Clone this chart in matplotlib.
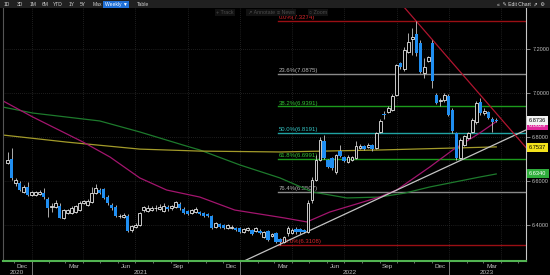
import numpy as np
import pandas as pd
import matplotlib
matplotlib.use("Agg")
import matplotlib.pyplot as plt
import matplotlib.dates as mdates
from matplotlib.patches import Rectangle
from matplotlib.lines import Line2D
from matplotlib.transforms import blended_transform_factory

plt.rcParams['font.family'] = ['Liberation Sans', 'DejaVu Sans']

# weekly candles (USD/CNY)
opens = [6.682, 6.699, 6.591, 6.591, 6.550, 6.573, 6.536, 6.537, 6.540, 6.545,
         6.518, 6.484, 6.482, 6.486, 6.432, 6.454, 6.454, 6.459, 6.468, 6.500,
         6.491, 6.505, 6.545, 6.559, 6.564, 6.527, 6.491, 6.482, 6.441, 6.436,
         6.441, 6.377, 6.391, 6.400, 6.468, 6.464, 6.470, 6.477, 6.473, 6.464,
         6.482, 6.477, 6.482, 6.495, 6.473, 6.464, 6.454, 6.459, 6.459, 6.454,
         6.450, 6.441, 6.391, 6.404, 6.400, 6.386, 6.386, 6.386, 6.386, 6.368,
         6.377, 6.377, 6.373, 6.373, 6.345, 6.373, 6.350, 6.364, 6.336, 6.323,
         6.364, 6.364, 6.382, 6.380, 6.377, 6.368, 6.514, 6.605, 6.695, 6.782,
         6.695, 6.705, 6.641, 6.736, 6.709, 6.686, 6.695, 6.705, 6.750, 6.759,
         6.755, 6.764, 6.750, 6.823, 6.905, 6.914, 6.923, 6.991, 7.136, 7.109,
         7.186, 7.245, 7.268, 7.227, 7.091, 7.145, 7.227, 6.991, 6.965, 6.968,
         6.986, 6.923, 6.818, 6.705, 6.764, 6.795, 6.823, 6.868, 6.959, 6.909,
         6.914, 6.882, 6.875]
highs = [6.730, 6.750, 6.614, 6.600, 6.580, 6.595, 6.556, 6.555, 6.560, 6.567,
         6.527, 6.500, 6.514, 6.500, 6.473, 6.475, 6.485, 6.490, 6.510, 6.515,
         6.520, 6.573, 6.586, 6.568, 6.570, 6.535, 6.500, 6.490, 6.450, 6.455,
         6.450, 6.400, 6.410, 6.460, 6.488, 6.490, 6.485, 6.490, 6.495, 6.500,
         6.490, 6.490, 6.510, 6.505, 6.480, 6.470, 6.475, 6.480, 6.465, 6.460,
         6.455, 6.445, 6.415, 6.410, 6.405, 6.405, 6.400, 6.392, 6.390, 6.387,
         6.390, 6.380, 6.390, 6.380, 6.373, 6.378, 6.365, 6.370, 6.340, 6.350,
         6.395, 6.385, 6.390, 6.385, 6.380, 6.514, 6.620, 6.718, 6.800, 6.810,
         6.700, 6.710, 6.725, 6.764, 6.715, 6.720, 6.715, 6.780, 6.770, 6.765,
         6.775, 6.770, 6.825, 6.880, 6.920, 6.940, 6.995, 7.130, 7.140, 7.210,
         7.273, 7.295, 7.3274, 7.240, 7.160, 7.170, 7.240, 6.998, 6.978, 6.998,
         6.995, 6.930, 6.825, 6.795, 6.810, 6.825, 6.885, 6.965, 6.977, 6.930,
         6.920, 6.890, 6.885]
lows = [6.678, 6.605, 6.577, 6.555, 6.545, 6.530, 6.530, 6.532, 6.535, 6.520,
        6.436, 6.459, 6.477, 6.430, 6.427, 6.450, 6.450, 6.455, 6.465, 6.495,
        6.487, 6.500, 6.540, 6.540, 6.520, 6.490, 6.470, 6.435, 6.430, 6.430,
        6.368, 6.370, 6.385, 6.395, 6.460, 6.460, 6.462, 6.465, 6.468, 6.460,
        6.465, 6.470, 6.478, 6.470, 6.450, 6.445, 6.448, 6.455, 6.445, 6.438,
        6.436, 6.382, 6.386, 6.385, 6.380, 6.380, 6.380, 6.372, 6.364, 6.364,
        6.372, 6.355, 6.368, 6.360, 6.340, 6.328, 6.345, 6.318, 6.3108, 6.318,
        6.350, 6.360, 6.360, 6.360, 6.362, 6.364, 6.500, 6.600, 6.690, 6.700,
        6.660, 6.650, 6.630, 6.710, 6.685, 6.680, 6.690, 6.700, 6.745, 6.740,
        6.750, 6.735, 6.745, 6.818, 6.880, 6.910, 6.920, 6.985, 7.110, 7.100,
        7.180, 7.172, 7.170, 7.090, 7.070, 7.140, 7.023, 6.950, 6.940, 6.960,
        6.895, 6.820, 6.695, 6.700, 6.760, 6.790, 6.820, 6.860, 6.900, 6.900,
        6.880, 6.823, 6.870]
closes = [6.695, 6.614, 6.605, 6.559, 6.573, 6.536, 6.550, 6.548, 6.549, 6.527,
          6.477, 6.487, 6.500, 6.432, 6.468, 6.468, 6.477, 6.486, 6.500, 6.509,
          6.509, 6.545, 6.568, 6.545, 6.523, 6.500, 6.477, 6.441, 6.443, 6.445,
          6.373, 6.395, 6.400, 6.454, 6.482, 6.477, 6.478, 6.478, 6.482, 6.486,
          6.473, 6.486, 6.505, 6.477, 6.454, 6.450, 6.468, 6.473, 6.450, 6.441,
          6.441, 6.386, 6.409, 6.391, 6.386, 6.400, 6.391, 6.377, 6.368, 6.382,
          6.386, 6.359, 6.386, 6.364, 6.368, 6.332, 6.359, 6.323, 6.323, 6.345,
          6.386, 6.377, 6.368, 6.368, 6.368, 6.500, 6.605, 6.695, 6.786, 6.705,
          6.664, 6.659, 6.718, 6.714, 6.691, 6.709, 6.709, 6.759, 6.759, 6.745,
          6.764, 6.745, 6.818, 6.873, 6.900, 6.932, 6.986, 7.127, 7.118, 7.195,
          7.232, 7.255, 7.182, 7.095, 7.118, 7.164, 7.055, 6.955, 6.970, 6.991,
          6.900, 6.827, 6.705, 6.786, 6.804, 6.818, 6.877, 6.955, 6.909, 6.918,
          6.886, 6.868, 6.8736]
last_week = "2023-03-24"

# moving averages
pink_dates = ["2020-11-12", "2021-01-03", "2021-04-01", "2021-05-18", "2021-07-09",
              "2021-08-25", "2021-10-22", "2021-12-22", "2022-03-19", "2022-04-27",
              "2022-06-06", "2022-09-01", "2022-10-01", "2022-11-28", "2023-01-07",
              "2023-02-23", "2023-03-24"]
pink_vals = [6.964, 6.891, 6.777, 6.709, 6.614, 6.559, 6.527, 6.468, 6.432, 6.414,
             6.459, 6.527, 6.559, 6.664, 6.741, 6.818, 6.870]
yellow_dates = ["2020-11-12", "2021-03-03", "2021-07-09", "2021-10-22", "2022-03-11",
                "2022-09-01", "2023-03-24"]
yellow_vals = [6.809, 6.777, 6.745, 6.736, 6.732, 6.741, 6.755]
green_dates = ["2020-11-12", "2021-01-03", "2021-04-30", "2021-07-09", "2021-09-22",
               "2021-10-22", "2021-12-31", "2022-03-11", "2022-05-07", "2022-07-06",
               "2022-09-01", "2022-10-15", "2022-11-28", "2023-02-23", "2023-03-24"]
green_vals = [6.936, 6.909, 6.873, 6.823, 6.764, 6.741, 6.673, 6.614, 6.550, 6.523,
              6.527, 6.545, 6.573, 6.618, 6.632]

# trend lines
up_trend_dates = ["2022-01-07", "2023-05-15"]
up_trend_vals = [6.236, 6.832]
down_trend_dates = ["2022-10-10", "2023-05-15"]
down_trend_vals = [7.402, 6.752]

# fibonacci retracement
fib_pcts = [0.0, 23.6, 38.2, 50.0, 61.8, 76.4, 100.0]
fib_vals = [7.3274, 7.0875, 6.9391, 6.8191, 6.6991, 6.5507, 6.3108]
fib_line_cols = ['#9a0f14', '#8a8a8a', '#1c9a1c', '#1fa3a3', '#1c9a1c', '#8a8a8a', '#9a0f14']
fib_text_cols = ['#d8262b', '#b4b4b4', '#34c234', '#34c6c6', '#34c234', '#b4b4b4', '#d8262b']

# axis labels
y_ticks = [6.4, 6.6, 6.8, 7.0, 7.2]
month_dates = ["2020-12-16", "2021-03-16", "2021-06-15", "2021-09-15", "2021-12-16",
               "2022-03-16", "2022-06-15", "2022-09-15", "2022-12-16", "2023-03-16"]
month_labels = ["Dec", "Mar", "Jun", "Sep", "Dec", "Mar", "Jun", "Sep", "Dec", "Mar"]
year_labels = ["2020", "2021", "2022", "2023"]
year_label_dates = ["2020-12-06", "2021-07-11", "2022-07-11", "2023-03-08"]
year_starts = ["2021-01-01", "2022-01-01", "2023-01-01"]
quarter_starts = ["2021-01-01", "2021-04-01", "2021-07-01", "2021-10-01", "2022-01-01",
                  "2022-04-01", "2022-07-01", "2022-10-01", "2023-01-01", "2023-04-01"]

# last values on the right
last_labels = ["6.8629", "6.8736", "6.7537", "6.6340"]
last_label_y = [6.8515, 6.8736, 6.7537, 6.6340]
last_label_bg = ['#e0279b', '#f2f2f2', '#f2e21c', '#2fae3c']
last_label_fg = ['white', 'black', 'black', 'white']

toolbar_left = ["1D", "3D", "1M", "6M", "YTD", "1Y", "5Y", "Max"]
toolbar_left_x = [7, 20, 33, 45, 58, 72, 83, 97]


def d(lst):
    return mdates.date2num(pd.to_datetime(lst))


o = np.array(opens); h = np.array(highs); l = np.array(lows); c = np.array(closes)
x = mdates.date2num(pd.date_range(end=last_week, periods=len(c), freq="7D"))
up = c >= o

fig = plt.figure(figsize=(5.5, 2.75), dpi=100, facecolor='black')
ax = fig.add_axes([3 / 550, 14 / 275, 523 / 550, 253 / 275])
ax.set_facecolor('black')
x_lo, x_hi = d(["2020-11-12", "2023-05-15"])
ax.set_xlim(x_lo, x_hi)
ax.set_ylim(6.2364, 7.3864)

# grid
for yv in y_ticks:
    ax.axhline(yv, color='#3a3a3a', lw=0.5, ls=(0, (1, 2)), zorder=0)
for xv in d(quarter_starts):
    ax.axvline(xv, color='#3a3a3a', lw=0.5, ls=(0, (1, 2)), zorder=0)

# fib levels
x_low = x[np.argmin(l)] - 3
for pct, val, lc, tc in zip(fib_pcts, fib_vals, fib_line_cols, fib_text_cols):
    ax.plot([x_low, x_hi], [val, val], color=lc, lw=1.0, zorder=1)
    ax.text(x_low + 1, val + 0.004, f"{pct:.1f}%({val:.4f})", color=tc,
            fontsize=4.3, ha='left', va='bottom', zorder=2)

# moving averages and trend lines
ax.plot(d(green_dates), green_vals, color='#1d7a2c', lw=0.9, zorder=2)
ax.plot(d(yellow_dates), yellow_vals, color='#a39b2a', lw=0.9, zorder=2)
ax.plot(d(pink_dates), pink_vals, color='#a3156e', lw=0.9, zorder=2)
ax.plot(d(up_trend_dates), up_trend_vals, color='#c4c4c4', lw=0.9, zorder=2)
ax.plot(d(down_trend_dates), down_trend_vals, color='#b0152f', lw=0.9, zorder=2)

# candles
ax.vlines(x, l, h, colors='#c8c8c8', lw=0.6, zorder=3)
body_lo = np.minimum(o, c)
body_h = np.maximum(np.abs(c - o), 0.0015)
ax.bar(x[up], body_h[up], bottom=body_lo[up], width=5.0, facecolor='black',
       edgecolor='#e8e8e8', lw=0.6, zorder=4)
ax.bar(x[~up], body_h[~up], bottom=body_lo[~up], width=5.6, color='#1f8ef1',
       lw=0, zorder=4)

# spines
ax.spines['top'].set_visible(False)
ax.spines['left'].set_color('#555555')
ax.spines['left'].set_linewidth(0.8)
ax.spines['right'].set_color('#c8c8c8')
ax.spines['right'].set_linewidth(0.8)
ax.spines['bottom'].set_color('#52b452')
ax.spines['bottom'].set_linewidth(1.5)

# y axis on the right
ax.yaxis.tick_right()
ax.set_yticks(y_ticks)
ax.set_yticklabels([f"{v:.4f}" for v in y_ticks])
ax.tick_params(axis='y', colors='#bdbdbd', labelsize=4.0, length=3, width=0.5, pad=1.5)

# x axis
ax.set_xticks(d(month_dates))
ax.set_xticklabels(month_labels)
ax.xaxis.set_minor_locator(mdates.MonthLocator())
ax.tick_params(axis='x', which='major', length=0, colors='#bdbdbd', labelsize=4.6, pad=2)
ax.tick_params(axis='x', which='minor', length=1.5, width=0.5, color='#9a9a9a')

trans_xa = blended_transform_factory(ax.transData, ax.transAxes)
for lab, xd in zip(year_labels, d(year_label_dates)):
    ax.text(xd, -0.044, lab, transform=trans_xa, ha='center', va='center',
            fontsize=4.6, color='#bdbdbd')
for xd in d(year_starts):
    ax.add_line(Line2D([xd, xd], [-0.005, -0.06], transform=trans_xa, color='#8a8a8a',
                       lw=0.6, clip_on=False))

# last value boxes
trans_ay = blended_transform_factory(ax.transAxes, ax.transData)
for i, (txt, yv, bg, fg) in enumerate(zip(last_labels, last_label_y, last_label_bg, last_label_fg)):
    ax.text(1.006, yv, txt, transform=trans_ay, ha='left', va='center', fontsize=4.1,
            color=fg, zorder=10 + i,
            bbox=dict(boxstyle='square,pad=0.35', fc=bg, ec='none'))

# toolbar
fig.add_artist(Rectangle((0, 1 - 8 / 275), 1, 8 / 275, transform=fig.transFigure,
                         fc='#202020', ec='none'))
ty = 1 - 4.3 / 275
for lab, px in zip(toolbar_left, toolbar_left_x):
    fig.text(px / 550, ty, lab, fontsize=3.6, color='#cfcfcf', ha='center', va='center')
fig.text(116 / 550, ty, "Weekly \u25BC", fontsize=3.6, color='white', ha='center', va='center',
         bbox=dict(boxstyle='square,pad=0.25', fc='#1f6fd6', ec='none'))
fig.text(143 / 550, ty, "Table", fontsize=3.6, color='#cfcfcf', ha='center', va='center')
fig.text(545 / 550, ty, "\u00AB  \u270E Edit Chart  \u21D7  \u2699", fontsize=3.6,
         color='#e0e0e0', ha='right', va='center')

# faded chart buttons
gy = 1 - 12.5 / 275
for lab, px in zip(["+ Track", "\u2197 Annotate", "\u2261 News", "\u25CB Zoom"], [225, 261, 286, 318]):
    fig.text(px / 550, gy, lab, fontsize=3.8, color='#4c4c4c', ha='center', va='center',
             bbox=dict(boxstyle='square,pad=0.2', fc='#111111', ec='none'))

fig.savefig("out.png", dpi=100, facecolor='black')
